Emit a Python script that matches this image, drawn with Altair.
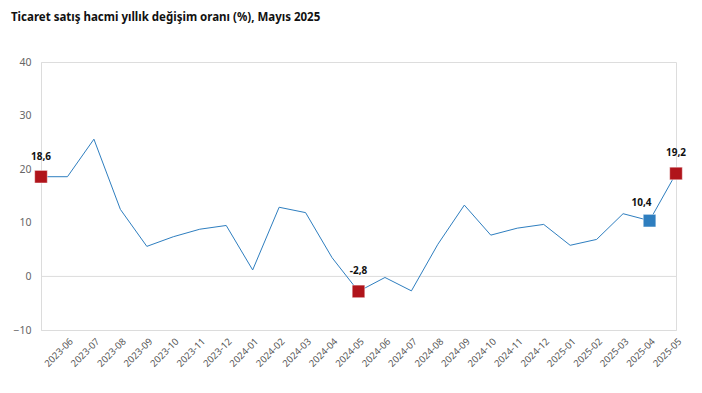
import altair as alt
import pandas as pd

months = ["2023-05", "2023-06", "2023-07", "2023-08", "2023-09", "2023-10", "2023-11", "2023-12",
          "2024-01", "2024-02", "2024-03", "2024-04", "2024-05", "2024-06", "2024-07", "2024-08",
          "2024-09", "2024-10", "2024-11", "2024-12", "2025-01", "2025-02", "2025-03", "2025-04",
          "2025-05"]
values = [18.6, 18.6, 25.6, 12.5, 5.6, 7.4, 8.8, 9.5,
          1.2, 12.9, 11.9, 3.5, -2.8, -0.2, -2.7, 6.0,
          13.3, 7.7, 9.0, 9.7, 5.8, 6.9, 11.7, 10.4,
          19.2]

hl_months = ["2023-05", "2024-05", "2025-04", "2025-05"]
hl_values = [18.6, -2.8, 10.4, 19.2]
hl_labels = ["18,6", "-2,8", "10,4", "19,2"]
hl_kind = ["red", "red", "blue", "red"]

y_ticks = [-10, 0, 10, 20, 30, 40]

df = pd.DataFrame({"month": months, "value": values})
hl = pd.DataFrame({"month": hl_months, "value": hl_values, "label": hl_labels, "kind": hl_kind})

FONT = "Noto Sans"
LINE = "#2E7EBF"

x_enc = alt.X("month:O", sort=months,
              scale=alt.Scale(type="point", padding=0),
              axis=alt.Axis(title=None, labelAngle=-45, ticks=False, domainColor="#dcdcdc",
                            labelColor="#555555", labelFontSize=9.5, labelFont=FONT, labelPadding=6,
                            labelExpr="datum.value == '2023-05' ? '' : datum.value"))
y_scale = alt.Scale(domain=[-10, 40], nice=False, zero=False)
y_enc = alt.Y("value:Q", scale=y_scale,
              axis=alt.Axis(title=None, values=y_ticks, grid=False, ticks=False,
                            domainColor="#dcdcdc", labelColor="#666666", labelFontSize=10.5,
                            labelFont=FONT, labelPadding=10))

zero = alt.Chart(pd.DataFrame({"z": [0]})).mark_rule(color="#dcdcdc", strokeWidth=1).encode(
    y=alt.Y("z:Q", scale=y_scale))

line = alt.Chart(df).mark_line(color=LINE, strokeWidth=1).encode(x=x_enc, y=y_enc)

squares = alt.Chart(hl).mark_square(size=160, opacity=1, stroke="white", strokeWidth=0.5).encode(
    x=alt.X("month:O", sort=months),
    y=alt.Y("value:Q"),
    color=alt.Color("kind:N", scale=alt.Scale(domain=["red", "blue"], range=["#B0141B", "#2E7EBF"]),
                    legend=None))

text_base = alt.Chart(hl).encode(
    x=alt.X("month:O", sort=months),
    y=alt.Y("value:Q"),
    text="label:N")
texts_red = text_base.transform_filter("datum.kind == 'red'").mark_text(
    font=FONT, fontSize=10, fontWeight="bold", color="#111111", dy=-20)
texts_blue = text_base.transform_filter("datum.kind == 'blue'").mark_text(
    font=FONT, fontSize=10, fontWeight="bold", color="#111111", dy=-18, dx=-8)

chart = alt.layer(zero, line, squares, texts_red, texts_blue).properties(
    width=635, height=268,
    title=alt.TitleParams("Ticaret satış hacmi yıllık değişim oranı (%), Mayıs 2025",
                          anchor="start", font=FONT, fontSize=11.5, fontWeight="bold",
                          color="#111111", dx=-2, offset=34),
    autosize=alt.AutoSizeParams(type="none"),
    padding={"left": 33, "top": 54, "right": 18, "bottom": 63},
).configure_view(stroke=None).configure(background="white")

chart.save("out.html", embed_options={"renderer": "svg", "actions": False})
